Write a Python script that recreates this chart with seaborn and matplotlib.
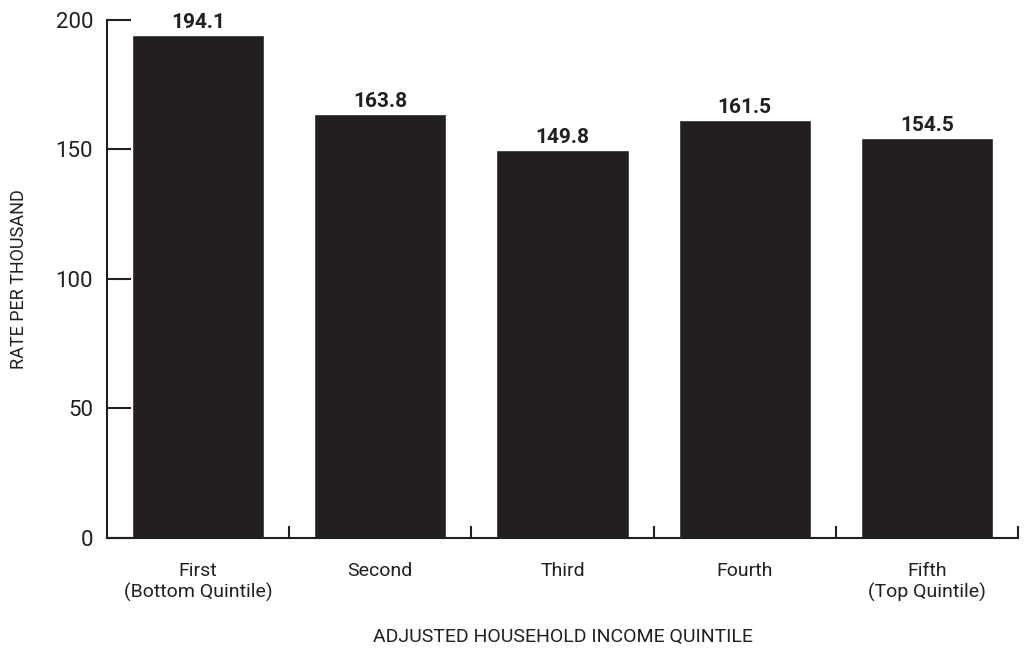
import matplotlib
matplotlib.use('Agg')
import matplotlib.pyplot as plt
import seaborn as sns
import pandas as pd
from matplotlib.ticker import FixedLocator

# Dados
quintis = ['First\n(Bottom Quintile)', 'Second', 'Third', 'Fourth', 'Fifth\n(Top Quintile)']
taxas = [194.1, 163.8, 149.8, 161.5, 154.5]
y_ticks = [0, 50, 100, 150, 200]

df = pd.DataFrame({'Quintil': quintis, 'Taxa': taxas})

sns.set_style('white')
plt.rcParams['font.family'] = ['Roboto', 'DejaVu Sans']
cor = '#231f20'

fig = plt.figure(figsize=(10.27, 6.66), dpi=100)
ax = fig.add_axes([0.1042, 0.1922, 0.887, 0.778])

sns.barplot(data=df, x='Quintil', y='Taxa', color=cor, saturation=1, width=0.725, ax=ax)

# Rótulos das barras
for c in ax.containers:
    ax.bar_label(c, fmt='%.1f', padding=2, fontsize=15, fontweight='bold', color=cor)

ax.set_xlim(-0.5, 4.5)
ax.set_ylim(0, 200)
ax.set_yticks(y_ticks)
ax.xaxis.set_minor_locator(FixedLocator([0.5, 1.5, 2.5, 3.5, 4.5]))

ax.tick_params(axis='y', left=True, direction='in', length=17, width=1.5, colors=cor, labelsize=16, pad=10)
ax.tick_params(axis='x', which='major', bottom=True, length=0, labelsize=14, labelcolor=cor, pad=17)
ax.tick_params(axis='x', which='minor', bottom=True, direction='in', length=9, width=1.5, color=cor)

for lado in ['top', 'right']:
    ax.spines[lado].set_visible(False)
for lado in ['left', 'bottom']:
    ax.spines[lado].set_linewidth(1.5)
    ax.spines[lado].set_color(cor)

ax.set_xlabel('ADJUSTED HOUSEHOLD INCOME QUINTILE', fontsize=14, color=cor, labelpad=19)
ax.set_ylabel('RATE PER THOUSAND', fontsize=13, color=cor, labelpad=20)

plt.savefig('out.png', dpi=100)
